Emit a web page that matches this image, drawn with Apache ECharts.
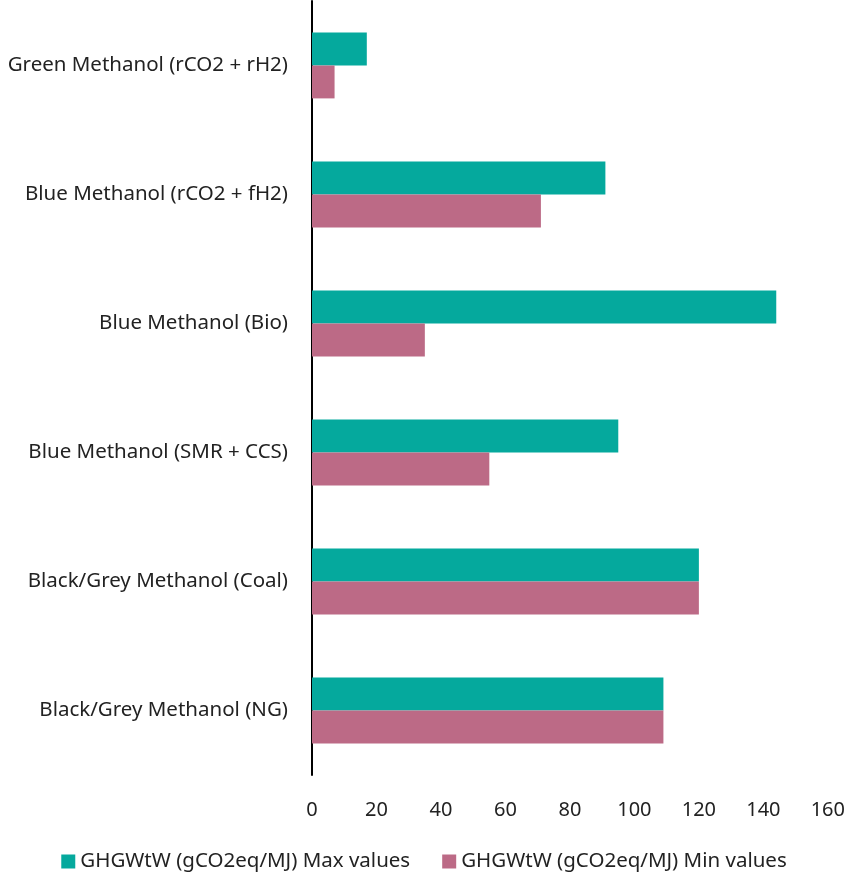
<!DOCTYPE html>
<html>
<head>
<meta charset="utf-8">
<script src="https://cdn.jsdelivr.net/npm/echarts@6/dist/echarts.min.js"></script>
<style>
  html, body { margin: 0; padding: 0; background: #fff; }
  #chart { width: 848px; height: 875px; }
</style>
</head>
<body>
<div id="chart"></div>
<script>
// Well-to-wake GHG intensity by methanol production pathway
const categories = [
  'Green Methanol (rCO2 + rH2)',
  'Blue Methanol (rCO2 + fH2)',
  'Blue Methanol (Bio)',
  'Blue Methanol (SMR + CCS)',
  'Black/Grey Methanol (Coal)',
  'Black/Grey Methanol (NG)'
];
const maxValues = [17, 91, 144, 95, 120, 109];
const minValues = [7, 71, 35, 55, 120, 109];
const xTicks = { min: 0, max: 160, interval: 20 };

const FONT = '"Noto Sans", "Open Sans", sans-serif';
const TEXT = '#222';
const chart = echarts.init(document.getElementById('chart'), null, { renderer: 'canvas' });

chart.setOption({
  animation: false,
  textStyle: { fontFamily: FONT },
  grid: { left: 312, right: 17, top: 1, bottom: 100, containLabel: false },
  legend: {
    top: 846,
    left: 'center',
    itemWidth: 14,
    itemHeight: 14,
    itemGap: 32,
    icon: 'rect',
    textStyle: { fontSize: 20.5, color: TEXT, fontFamily: FONT }
  },
  xAxis: {
    type: 'value',
    min: xTicks.min,
    max: xTicks.max,
    interval: xTicks.interval,
    axisLine: { show: false },
    axisTick: { show: false },
    splitLine: { show: false },
    axisLabel: { fontSize: 20, color: TEXT, margin: 25, fontFamily: FONT }
  },
  yAxis: {
    type: 'category',
    data: categories,
    inverse: true,
    axisLine: { show: true, lineStyle: { color: '#000', width: 2 } },
    axisTick: { show: false },
    axisLabel: { fontSize: 20.5, color: TEXT, margin: 24, fontFamily: FONT }
  },
  series: [
    {
      name: 'GHGWtW (gCO2eq/MJ) Max values',
      type: 'bar',
      data: maxValues,
      barCategoryGap: '49%',
      barGap: '0%',
      itemStyle: { color: '#05A99D' }
    },
    {
      name: 'GHGWtW (gCO2eq/MJ) Min values',
      type: 'bar',
      data: minValues,
      barCategoryGap: '49%',
      barGap: '0%',
      itemStyle: { color: '#BC6A86' }
    }
  ]
});
</script>
</body>
</html>
